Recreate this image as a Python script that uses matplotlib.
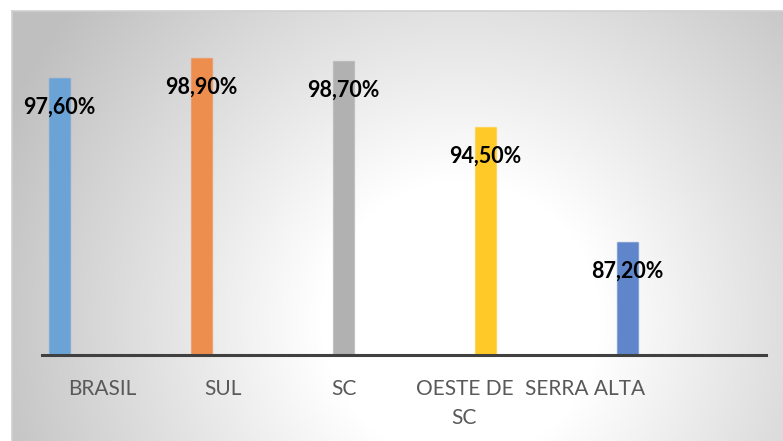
import numpy as np
import matplotlib
matplotlib.use("Agg")
import matplotlib.pyplot as plt

categories = ["BRASIL", "SUL", "SC", "OESTE DE\nSC", "SERRA ALTA", ""]
values = [97.6, 98.9, 98.7, 94.5, 87.2]
bar_colors = ["#6BA3D6", "#EE8E4E", "#B1B1B1", "#FFCA28", "#5F85CB"]

W, H = 783, 441
fig = plt.figure(figsize=(W / 100, H / 100), dpi=100)

# radial gradient background
bg = fig.add_axes([0, 0, 1, 1], zorder=0)
yy, xx = np.mgrid[0:H, 0:W]
cx, cy = 460, 320
d = np.sqrt((xx - cx) ** 2 + (yy - cy) ** 2)
r0, r1 = 140, 500
t = np.clip((d - r0) / (r1 - r0), 0, 1)
g = 1.0 - 0.25 * t
img = np.dstack([g, g, g])
img[:11, :, :] = 1.0
img[:, :12, :] = 1.0
bg.imshow(img, extent=[0, W, H, 0], aspect="auto", interpolation="bilinear")
bg.plot([12, W], [11, 11], color="#D0D0D0", lw=1.2)
bg.plot([12, 12], [11, H], color="#D0D0D0", lw=1.2)
bg.set_xlim(0, W)
bg.set_ylim(H, 0)
bg.axis("off")

ax = fig.add_axes([42 / W, (H - 355) / H, 724 / W, (355 - 40.5) / H], zorder=1)
ax.patch.set_alpha(0)
n = len(values)
slot = 1.177
xs = [-0.355 + i * slot for i in range(n)]
bw = 21 / 120.67
ax.bar(xs, values, width=bw, bottom=0, color=bar_colors,
       edgecolor=[matplotlib.colors.to_rgba(c, 0.5) for c in bar_colors], linewidth=1.0, zorder=2)
ax.set_ylim(80, 100)
ax.set_xlim(-0.5, len(categories) - 0.5)

for x, v in zip(xs, values):
    ax.annotate(f"{v:.2f}".replace(".", ",") + "%", xy=(x, v), xytext=(0, -29 * 0.72),
                textcoords="offset points", ha="center", va="center",
                fontsize=15.5, fontweight="bold", family="Lato", color="black", zorder=3)

ax.set_xticks(range(len(categories)))
ax.set_xticklabels(categories, fontsize=15, family="Lato", color="#595959")
for lbl in ax.get_xticklabels():
    lbl.set_linespacing(1.6)
ax.tick_params(axis="x", length=0, pad=17)
ax.set_yticks([])
for s in ["top", "right", "left"]:
    ax.spines[s].set_visible(False)
ax.spines["bottom"].set_color("#404040")
ax.spines["bottom"].set_linewidth(2.2)
ax.spines["bottom"].set_zorder(4)

fig.savefig("out.png", dpi=100)
